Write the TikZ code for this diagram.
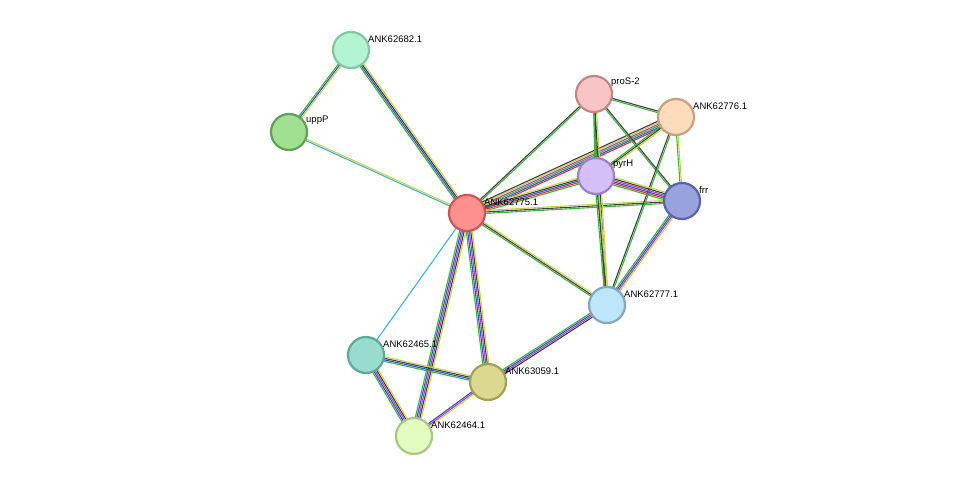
\documentclass[tikz,border=0pt]{standalone}
\usepackage{fontspec}
\setmainfont{Liberation Sans}
\usetikzlibrary{calc}
\definecolor{cg}{HTML}{3DB33D}\definecolor{cy}{HTML}{C3D44A}\definecolor{ck}{HTML}{404040}
\definecolor{cb}{HTML}{3050D8}\definecolor{cp}{HTML}{B040B0}\definecolor{cc}{HTML}{40B0E0}
\definecolor{cr}{HTML}{E03030}
\newcommand\medge[4]{%
 \foreach \c [count=\i] in {#4}{%
  \pgfmathsetmacro\o{(\i-1-(#3-1)/2)*1.5}%
  \draw[\c,line width=1.1pt] ($(#1)!\o pt!90:(#2)$) -- ($(#2)!\o pt!-90:(#1)$);}}
\tikzset{prot/.style={circle,minimum size=36pt,line width=2.2pt,inner sep=0pt},
 lab/.style={font=\fontsize{9.5}{11}\selectfont,anchor=south west,inner sep=1pt}}
\begin{document}
\begin{tikzpicture}[x=1pt,y=-1pt]
\useasboundingbox (0,0) rectangle (975,482);
\coordinate (n682) at (351,50);
\coordinate (upp) at (289,132);
\coordinate (pro) at (594,94);
\coordinate (n776) at (676,117);
\coordinate (pyr) at (596,176);
\coordinate (frr) at (682,201);
\coordinate (n775) at (467,213);
\coordinate (n777) at (607,305);
\coordinate (n465) at (366,355);
\coordinate (n059) at (488,382);
\coordinate (n464) at (414,436);
\medge{n682}{upp}{3}{cg,cb,cy}
\medge{n682}{n775}{4}{cg,cb,ck,cy}
\medge{upp}{n775}{2}{cc,cy}
\medge{n775}{pro}{2}{cg,ck}
\medge{n775}{n776}{6}{cr,cb,cg,cp,cy,ck}
\medge{n775}{pyr}{5}{cg,cr,cb,ck,cy}
\medge{n775}{frr}{3}{cg,ck,cy}
\medge{n775}{n777}{3}{cg,ck,cy}
\medge{n775}{n465}{1}{cc}
\medge{n775}{n059}{5}{cg,cb,cp,ck,cy}
\medge{n775}{n464}{5}{cg,cb,cp,ck,cy}
\medge{pro}{n776}{2}{cg,ck}
\medge{pro}{pyr}{2}{cg,ck}
\medge{pro}{frr}{2}{cg,ck}
\medge{pro}{n777}{3}{cg,ck,cy}
\medge{n776}{pyr}{3}{cg,ck,cy}
\medge{n776}{frr}{2}{cg,cy}
\medge{n776}{n777}{2}{ck,cg}
\medge{pyr}{frr}{6}{cg,cr,cb,cp,ck,cy}
\medge{pyr}{n777}{3}{cg,ck,cy}
\medge{frr}{n777}{4}{cg,cb,cp,cy}
\medge{n777}{n059}{4}{cg,cb,cp,ck}
\medge{n465}{n059}{4}{cg,cb,ck,cy}
\medge{n465}{n464}{5}{cg,cb,cp,ck,cy}
\medge{n059}{n464}{3}{cb,cp,cy}
\foreach \p/\f/\d/\t in {n682/B3F5D3/80C8A0/ANK62682.1, upp/A0E090/60A058/uppP, pro/F8C4C4/C08888/proS-2,
 n776/FDDCBC/C8A080/ANK62776.1, pyr/D4C0F8/9A80C8/pyrH, frr/9AA2DE/5A62A8/frr, n775/FF9090/C85858/ANK62775.1,
 n777/BEE6FA/80A8C0/ANK62777.1, n465/98DCCE/60A898/ANK62465.1, n059/DCD890/A0A058/ANK63059.1, n464/E2FCC2/A8C888/ANK62464.1}{
 \definecolor{f}{HTML}{\f}\definecolor{d}{HTML}{\d}
 \node[prot,fill=f,draw=d] (\p x) at (\p) {};
 \node[lab] at ($(\p)+(16,-6)$) {\t};}
\end{tikzpicture}
\end{document}
